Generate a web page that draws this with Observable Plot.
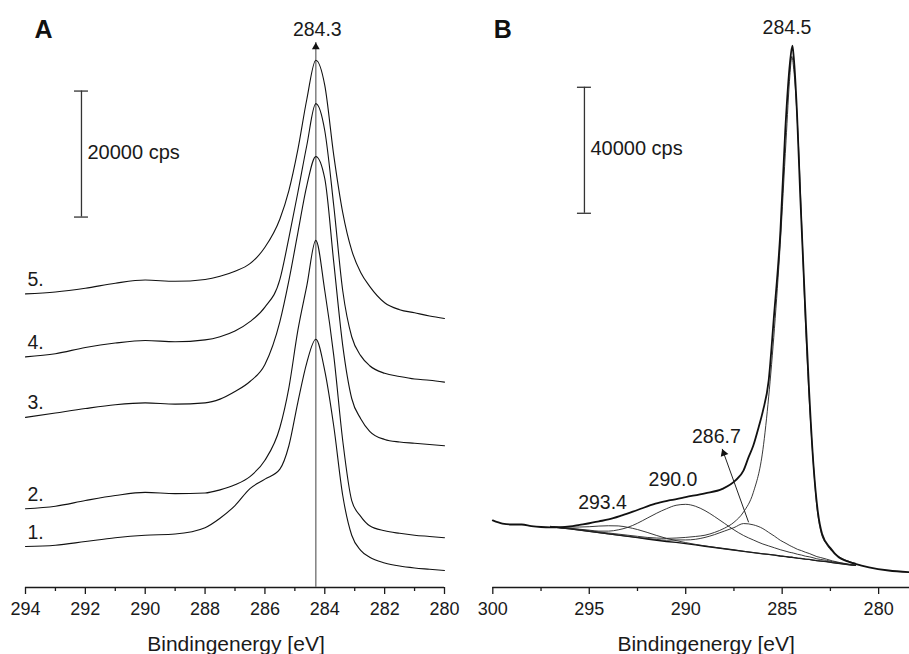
<!DOCTYPE html>
<html><head><meta charset="utf-8">
<script src="https://cdn.jsdelivr.net/npm/d3@7"></script>
<script src="https://cdn.jsdelivr.net/npm/@observablehq/plot@0.6"></script>
<style>
html,body{margin:0;padding:0;background:#fff;}
#chart{position:relative;width:909px;height:654px;overflow:hidden;background:#fff;}
#chart svg{position:absolute;top:0;overflow:visible;}
</style></head>
<body><div id="chart"></div>
<script>
// ---------- Panel A : C1s spectra 1.–5. (kcps, offset for display) ----------
const energyA = [294, 293, 292, 291, 290, 289, 288, 287.5, 287, 286.5, 286, 285.5, 285.2, 284.9, 284.6, 284.3, 284.0, 283.7, 283.4, 283.1, 282.8, 282.5, 282, 281.5, 281, 280.5, 280];
const traceA1 = [6.5, 6.7, 7.3, 7.9, 8.3, 8.5, 9.5, 11.0, 13.0, 15.7, 17.2, 18.8, 22.5, 29.4, 35.7, 39.4, 34.4, 25.6, 14.6, 8.3, 5.9, 4.8, 3.9, 3.4, 3.1, 2.9, 2.7];
const traceA2 = [12.5, 12.9, 13.8, 14.6, 15.1, 14.9, 15.0, 15.5, 16.3, 17.6, 20.2, 25.4, 31.7, 40.8, 47.9, 55.1, 47.1, 36.8, 23.3, 13.8, 11.3, 9.8, 9.0, 8.6, 8.3, 8.1, 7.9];
const traceA3 = [27.0, 27.7, 28.4, 29.0, 29.3, 29.1, 29.3, 29.9, 31.1, 32.7, 35.4, 42.2, 48.7, 56.3, 63.8, 68.4, 64.9, 51.6, 38.4, 30.0, 26.8, 24.8, 23.5, 23.1, 22.9, 22.7, 22.5];
const traceA4 = [36.6, 37.1, 38.1, 38.8, 39.2, 39.0, 39.3, 39.8, 40.7, 42.2, 44.5, 48.9, 55.5, 62.7, 70.2, 76.8, 72.5, 60.6, 47.1, 39.8, 36.8, 35.2, 34.0, 33.5, 33.1, 32.9, 32.6];
const traceA5 = [46.6, 46.9, 47.5, 48.3, 48.8, 48.6, 48.9, 49.4, 50.2, 51.4, 54.0, 58.5, 63.0, 69.5, 77.5, 83.7, 79.7, 68.6, 59.5, 53.5, 50.0, 47.8, 45.2, 44.1, 43.6, 43.1, 42.7];
const traceNamesA = ["1.", "2.", "3.", "4.", "5."];
const ticksA = [294, 292, 290, 288, 286, 284, 282, 280];
const minorTicksA = [293, 291, 289, 287, 285, 283, 281];
const peakA = 284.3;
const arrowTopA = 86.5;
const scaleA = {energy: 292.13, low: 58.8, span: 20, text: "20000 cps"};

// ---------- Panel B : fitted spectrum (kcps) ----------
const energyRawB = [300, 299.5, 299, 298.5, 298, 297.5, 297, 296.75, 296, 295.5, 295, 294.5, 294, 293.3, 292.5, 291.57, 290.8, 290, 289, 288.1, 287.42, 287, 286.74, 286.5, 286.22, 286, 285.7, 285.44, 285.09, 284.84, 284.6, 284.47, 284.4, 284.23, 284.06, 283.8, 283.6, 283.37, 283.15, 282.93, 282.5, 282.07, 281.6, 281.21, 280.5, 279.48, 278.45];
const rawB = [21.3, 20.3, 20.0, 20.0, 19.5, 19.2, 19.1, 19.1, 19.4, 19.9, 20.4, 21.0, 21.6, 22.9, 24.6, 26.6, 27.7, 28.7, 29.9, 31.3, 34.0, 37.2, 41.4, 45.0, 50.9, 56.0, 65.7, 85.0, 113.3, 145.1, 166.3, 172.0, 168.3, 150.4, 123.9, 87.9, 62.0, 38.2, 24.0, 17.0, 12.5, 9.6, 8.3, 7.5, 6.4, 5.4, 4.9];
const energyFitB = [297, 296.5, 296, 295.5, 295, 294.5, 294, 293.5, 293, 292.5, 292, 291.5, 291, 290.5, 290, 289.5, 289, 288.5, 288, 287.5, 287, 286.5, 286, 285.7, 285.4, 285.1, 284.8, 284.6, 284.5, 284.4, 284.2, 284.0, 283.8, 283.6, 283.4, 283.2, 283.0, 282.7, 282.4, 282.0, 281.5, 281.2];
const backgroundB = [19.3, 18.9, 18.6, 18.2, 17.8, 17.4, 17.0, 16.6, 16.2, 15.8, 15.4, 15.0, 14.6, 14.3, 13.9, 13.5, 13.1, 12.7, 12.3, 11.9, 11.5, 11.1, 10.7, 10.5, 10.3, 10.0, 9.8, 9.6, 9.6, 9.5, 9.3, 9.2, 9.0, 8.9, 8.7, 8.5, 8.4, 8.2, 7.9, 7.6, 7.2, 7.0];
const peak2934 = [0.1, 0.3, 0.6, 1.0, 1.5, 2.1, 2.6, 2.95, 2.9, 2.6, 2.1, 1.5, 1.0, 0.6, 0.35, 0.2, 0.1, 0.05, 0, 0, 0, 0, 0, 0, 0, 0, 0, 0, 0, 0, 0, 0, 0, 0, 0, 0, 0, 0, 0, 0, 0, 0];
const peak2900 = [0, 0.1, 0.2, 0.3, 0.4, 0.5, 0.9, 1.7, 2.9, 4.6, 6.6, 8.6, 10.4, 11.8, 12.5, 12.3, 11.3, 9.8, 8.1, 6.4, 5.0, 4.0, 3.1, 2.7, 2.3, 2.0, 1.7, 1.55, 1.45, 1.4, 1.25, 1.1, 0.95, 0.85, 0.75, 0.6, 0.5, 0.4, 0.3, 0.2, 0.1, 0.05];
const peak2867 = [0, 0, 0, 0, 0, 0, 0, 0.02, 0.05, 0.1, 0.15, 0.25, 0.4, 0.8, 1.2, 1.8, 2.8, 4.1, 5.6, 7.1, 8.8, 8.8, 8.0, 7.0, 6.0, 5.0, 4.2, 3.7, 3.4, 3.2, 2.8, 2.5, 2.2, 1.9, 1.6, 1.3, 1.1, 0.8, 0.55, 0.3, 0.15, 0.1];
const peak2845 = [0.1, 0.1, 0.15, 0.2, 0.2, 0.25, 0.3, 0.35, 0.4, 0.45, 0.5, 0.7, 1.0, 1.4, 2.0, 2.7, 3.5, 4.8, 6.5, 8.8, 12.5, 19, 33, 50, 72, 99, 132, 153, 159, 155, 137, 108, 76, 51, 32, 17, 9.5, 5.5, 3.5, 2.0, 1.0, 0.7];
const peakLabelsB = ["293.4", "290.0", "286.7", "284.5"];
const labelPosB = [[294.31, 26.9], [290.66, 34.2], [288.41, 47.8], [284.75, 177.6]];
const arrowB = {fromE: 286.74, fromI: 20.7, toE: 288.11, toI: 44.0};
const ticksB = [300, 295, 290, 285, 280];
const minorTicksB = [297.5, 292.5, 287.5, 282.5];
const scaleB = {energy: 295.25, low: 118.8, span: 40, text: "40000 cps"};

const axisTitle = "Bindingenergy [eV]";
const FONT = '"Liberation Sans", Arial, Helvetica, sans-serif';
const INK = "#1a1a1a";
const baseStyle = {fontFamily: FONT, fontSize: "18px", color: INK, background: "transparent", overflow: "visible"};

// ---------- tables ----------
const tracesA = [traceA1, traceA2, traceA3, traceA4, traceA5];
const rowsA = tracesA.flatMap((vals, k) => energyA.map((e, i) => ({E: e, I: vals[i], trace: traceNamesA[k]})));
const labelRowsA = tracesA.map((vals, k) => ({E: energyA[0], I: vals[0], name: traceNamesA[k]}));

const rowsRawB = energyRawB.map((e, i) => ({E: e, I: rawB[i]}));
const rowsBgB = energyFitB.map((e, i) => ({E: e, I: backgroundB[i]}));
const comps = [["293.4", peak2934], ["290.0", peak2900], ["286.7", peak2867], ["284.5", peak2845]];
const rowsCompB = comps.flatMap(([name, vals]) => energyFitB.map((e, i) => ({E: e, I: backgroundB[i] + vals[i], comp: name})));
const labelRowsB = peakLabelsB.map((t, i) => ({text: t, E: labelPosB[i][0], I: labelPosB[i][1]}));

function axisMarks(ticks, minor) {
  return [
    Plot.ruleY([0], {stroke: INK, strokeWidth: 1.4}),
    Plot.axisX({ticks: ticks, anchor: "bottom", tickSize: 7, tickPadding: 8, strokeWidth: 1.3, fontSize: 18, label: null, tickFormat: d => String(d)}),
    Plot.axisX({ticks: minor, anchor: "bottom", tickSize: 4, strokeWidth: 1.3, label: null, tickFormat: () => ""})
  ];
}
function scaleBar(s, capHalf) {
  return [
    Plot.ruleX([s], {x: "energy", y1: "low", y2: d => d.low + d.span, stroke: "#333", strokeWidth: 1.3}),
    Plot.ruleY([s.low, s.low + s.span], {x1: s.energy + capHalf, x2: s.energy - capHalf, stroke: "#333", strokeWidth: 1.3}),
    Plot.text([s], {x: "energy", y: d => d.low + d.span / 2, text: "text", textAnchor: "start", lineAnchor: "middle", dx: 6, dy: -1.5, fontSize: 20, fill: INK})
  ];
}

const plotA = Plot.plot({
  width: 455, height: 654,
  marginTop: 0, marginBottom: 67, marginLeft: 25, marginRight: 11,
  x: {domain: [294, 280]},
  y: {domain: [0, 587 / 6.3], axis: null},
  style: baseStyle,
  marks: [
    ...axisMarks(ticksA, minorTicksA),
    Plot.ruleX([peakA], {y1: 0, y2: arrowTopA, stroke: "#808080", strokeWidth: 1.5}),
    Plot.line(rowsA, {x: "E", y: "I", z: "trace", curve: "monotone-x", stroke: "#111", strokeWidth: 1.1}),
    Plot.dot([peakA], {x: d => d, y: () => arrowTopA, symbol: "triangle", r: 2.9, fill: "#111", stroke: "none", dy: 4.4}),
    Plot.text([peakA], {x: d => d, y: () => arrowTopA, text: d => d.toFixed(1), lineAnchor: "bottom", dx: 1.5, dy: -7, fontSize: 19.5, fill: INK}),
    Plot.text(labelRowsA, {x: "E", y: "I", text: "name", textAnchor: "start", lineAnchor: "bottom", dx: 2, dy: -8, fontSize: 19.5, fill: INK}),
    ...scaleBar(scaleA, 0.234),
    Plot.text(["A"], {frameAnchor: "top-left", text: d => d, dx: 18, dy: 29, textAnchor: "middle", lineAnchor: "middle", fontSize: 25, fontWeight: "bold", fill: "#111"}),
    Plot.text([axisTitle], {frameAnchor: "bottom", text: d => d, dy: 63, dx: 1, lineAnchor: "bottom", fontSize: 21, fill: INK})
  ]
});

const plotB = Plot.plot({
  width: 454, height: 654,
  marginTop: 0, marginBottom: 67, marginLeft: 37.3, marginRight: 0,
  x: {domain: [300, 278.4]},
  y: {domain: [0, 587 / 3.15], axis: null},
  style: baseStyle,
  marks: [
    ...axisMarks(ticksB, minorTicksB),
    Plot.line(rowsBgB, {x: "E", y: "I", stroke: "#111", strokeWidth: 1.3}),
    Plot.line(rowsCompB, {x: "E", y: "I", z: "comp", curve: "monotone-x", stroke: "#222", strokeWidth: 0.9}),
    Plot.line(rowsRawB, {x: "E", y: "I", curve: "monotone-x", stroke: "#111", strokeWidth: 1.8}),
    Plot.link([arrowB], {x1: "fromE", y1: "fromI", x2: "toE", y2: "toI", stroke: "#222", strokeWidth: 1}),
    Plot.dot([arrowB], {x: "toE", y: "toI", symbol: "triangle", r: 3, rotate: -20, fill: "#111", stroke: "none", dx: 1.6, dy: 4.4}),
    Plot.text(labelRowsB, {x: "E", y: "I", text: "text", lineAnchor: "middle", fontSize: 19.5, fill: INK}),
    ...scaleBar(scaleB, 0.363),
    Plot.text(["B"], {frameAnchor: "top-left", text: d => d, dx: 10, dy: 29, textAnchor: "middle", lineAnchor: "middle", fontSize: 25, fontWeight: "bold", fill: "#111"}),
    Plot.text([axisTitle], {frameAnchor: "bottom", text: d => d, dy: 63, dx: 5, lineAnchor: "bottom", fontSize: 21, fill: INK})
  ]
});

plotA.style.left = "0px";
plotB.style.left = "455px";
const chart = document.getElementById("chart");
chart.appendChild(plotA);
chart.appendChild(plotB);
</script>
</body></html>
